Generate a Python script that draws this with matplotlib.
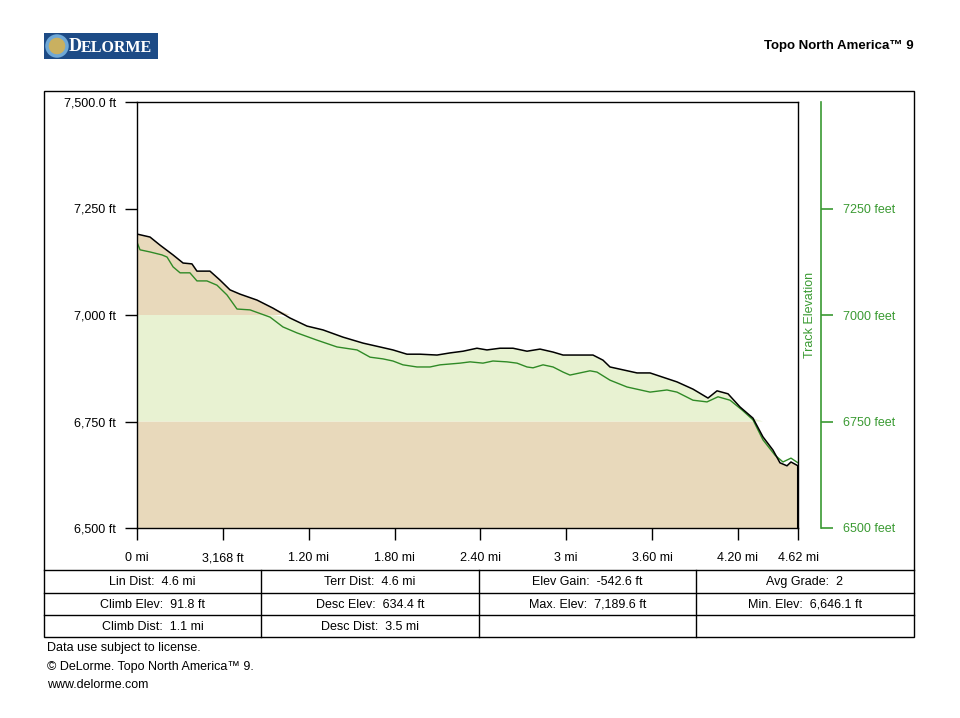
import numpy as np
import matplotlib
matplotlib.use("Agg")
import matplotlib.pyplot as plt
from matplotlib.patches import Rectangle, Circle

plt.rcParams['font.family'] = ['Liberation Sans', 'DejaVu Sans']

# terrain profile (black line), miles / feet
terr_mi = [0.000, 0.091, 0.161, 0.252, 0.322, 0.384, 0.419, 0.510, 0.580, 0.650,
           0.720, 0.839, 0.951, 1.069, 1.188, 1.300, 1.440, 1.580, 1.698, 1.789,
           1.887, 1.978, 2.097, 2.188, 2.279, 2.376, 2.446, 2.537, 2.628, 2.726,
           2.817, 2.908, 2.978, 3.187, 3.257, 3.306, 3.495, 3.586, 3.774, 3.886,
           3.991, 4.054, 4.131, 4.215, 4.305, 4.375, 4.445, 4.494, 4.543, 4.571, 4.620]
terr_ft = [7190, 7183, 7164, 7141, 7122, 7120, 7103, 7103, 7082, 7059,
           7049, 7035, 7016, 6993, 6974, 6965, 6948, 6934, 6925, 6918,
           6908, 6908, 6906, 6911, 6915, 6922, 6918, 6922, 6922, 6915,
           6920, 6913, 6906, 6906, 6894, 6878, 6864, 6864, 6843, 6826,
           6805, 6822, 6815, 6784, 6758, 6714, 6683, 6653, 6646, 6655, 6646]

# track elevation (green line)
trk_mi = [0.000, 0.021, 0.091, 0.175, 0.210, 0.252, 0.301, 0.370, 0.419, 0.489,
          0.559, 0.629, 0.699, 0.790, 0.930, 1.020, 1.118, 1.258, 1.398, 1.538,
          1.629, 1.719, 1.789, 1.859, 1.957, 2.048, 2.118, 2.188, 2.258, 2.328,
          2.418, 2.488, 2.586, 2.656, 2.726, 2.768, 2.838, 2.908, 2.978, 3.026,
          3.166, 3.215, 3.306, 3.425, 3.586, 3.704, 3.774, 3.886, 3.984, 4.061,
          4.145, 4.229, 4.305, 4.375, 4.459, 4.515, 4.571, 4.620]
trk_ft = [7171, 7153, 7148, 7141, 7136, 7113, 7099, 7099, 7080, 7080,
          7070, 7047, 7014, 7012, 6995, 6972, 6958, 6941, 6925, 6918,
          6901, 6897, 6892, 6883, 6878, 6878, 6883, 6885, 6887, 6890,
          6887, 6892, 6890, 6887, 6878, 6876, 6883, 6878, 6866, 6859,
          6869, 6866, 6847, 6831, 6819, 6824, 6819, 6800, 6796, 6808,
          6800, 6777, 6754, 6707, 6671, 6655, 6664, 6653]

x_ticks = [0, 0.6, 1.2, 1.8, 2.4, 3.0, 3.6, 4.2, 4.62]
x_labels = ["0 mi", "3,168 ft", "1.20 mi", "1.80 mi", "2.40 mi", "3 mi",
            "3.60 mi", "4.20 mi", "4.62 mi"]
y_ticks = [6500, 6750, 7000, 7250, 7500]
y_labels = ["6,500 ft", "6,750 ft", "7,000 ft", "7,250 ft", "7,500.0 ft"]
r_ticks = [6500, 6750, 7000, 7250]
r_labels = ["6500 feet", "6750 feet", "7000 feet", "7250 feet"]

stats = [["Lin Dist:  4.6 mi", "Terr Dist:  4.6 mi", "Elev Gain:  -542.6 ft", "Avg Grade:  2"],
         ["Climb Elev:  91.8 ft", "Desc Elev:  634.4 ft", "Max. Elev:  7,189.6 ft", "Min. Elev:  6,646.1 ft"],
         ["Climb Dist:  1.1 mi", "Desc Dist:  3.5 mi", "", ""]]
footer = ["Data use subject to license.",
          "\u00a9 DeLorme. Topo North America\u2122 9.",
          "www.delorme.com"]

TAN = "#e8d9bb"
LGREEN = "#e8f2d2"
band_cols = [TAN, LGREEN, TAN, LGREEN]
GREEN = "#3a9a32"

W, H = 960, 718
fig = plt.figure(figsize=(9.6, 7.18), dpi=100)

# background canvas in pixel coordinates
bg = fig.add_axes([0, 0, 1, 1])
bg.set_xlim(0, W)
bg.set_ylim(H, 0)
bg.axis("off")

# logo
bg.add_patch(Rectangle((44, 33), 114, 26, facecolor="#1d4b86", edgecolor="none"))
bg.add_patch(Circle((57, 46), 10, facecolor="#c9b060", edgecolor="#6fa8d6", lw=2.5))
bg.text(69, 46.5, "D", color="white", fontsize=13, fontweight="bold",
        family="Liberation Serif", va="center", ha="left")
bg.text(81, 47.5, "ELORME", color="white", fontsize=11.5, fontweight="bold",
        family="Liberation Serif", va="center", ha="left")

bg.text(914, 46, "Topo North America\u2122 9", fontsize=9.5, fontweight="bold",
        ha="right", va="center")

# outer frame + stats table
bg.add_patch(Rectangle((44, 91), 870, 546, facecolor="none", edgecolor="black", lw=1))
for yy in [570, 593, 615]:
    bg.plot([44, 914], [yy, yy], color="black", lw=1)
cols = [44, 261, 479, 696, 914]
for xx in cols[1:-1]:
    bg.plot([xx, xx], [570, 637], color="black", lw=1)
row_y = [582, 604.5, 626.5]
for r, row in enumerate(stats):
    for c, txt in enumerate(row):
        bg.text((cols[c] + cols[c + 1]) / 2, row_y[r], txt, fontsize=9,
                ha="center", va="center")
for i, txt in enumerate(footer):
    bg.text(47, 648.5 + i * 18.5, txt, fontsize=9, ha="left", va="center")

bg.text(810, 315, "Track Elevation", color=GREEN, fontsize=9, rotation=90,
        ha="center", va="center")

# main profile axes
ax = fig.add_axes([137 / W, 1 - 528 / H, 661 / W, 426 / H])
ax.set_xlim(0, 4.62)
ax.set_ylim(6500, 7500)
tx = np.array(terr_mi)
ty = np.array(terr_ft, dtype=float)
for i, col in enumerate(band_cols):
    lo, hi = y_ticks[i], y_ticks[i + 1]
    ax.fill_between(tx, lo, np.clip(ty, lo, hi), where=ty > lo, interpolate=True,
                    facecolor=col, edgecolor="none", zorder=1)
ax.plot(tx, ty, color="black", lw=1.1, zorder=3)
ax.plot([tx[-1], tx[-1]], [ty[-1], 6500], color="black", lw=1.5, zorder=3)
ax.plot(trk_mi, trk_ft, color="#2f8a26", lw=1.0, zorder=2)

ax.set_xticks(x_ticks)
ax.set_xticklabels(x_labels)
ax.set_yticks(y_ticks)
ax.set_yticklabels(y_labels)
ax.tick_params(axis="both", length=8.6, width=1, labelsize=9, direction="out")
ax.tick_params(axis="x", pad=15.5)
ax.tick_params(axis="y", pad=6.5)
for lbl in ax.get_xticklabels():
    lbl.set_verticalalignment("baseline")
for s in ax.spines.values():
    s.set_linewidth(1)

# green track elevation axis
ax2 = fig.add_axes([800 / W, 1 - 528 / H, 21 / W, 426 / H])
ax2.set_ylim(6500, 7500)
ax2.patch.set_visible(False)
for k in ["left", "top", "bottom"]:
    ax2.spines[k].set_visible(False)
ax2.spines["right"].set_color(GREEN)
ax2.spines["right"].set_linewidth(1.2)
ax2.set_xticks([])
ax2.yaxis.tick_right()
ax2.set_yticks(r_ticks)
ax2.set_yticklabels(r_labels)
ax2.tick_params(axis="y", colors=GREEN, length=8.6, width=1.2, pad=7, labelsize=9)

fig.savefig("out.png", dpi=100)
